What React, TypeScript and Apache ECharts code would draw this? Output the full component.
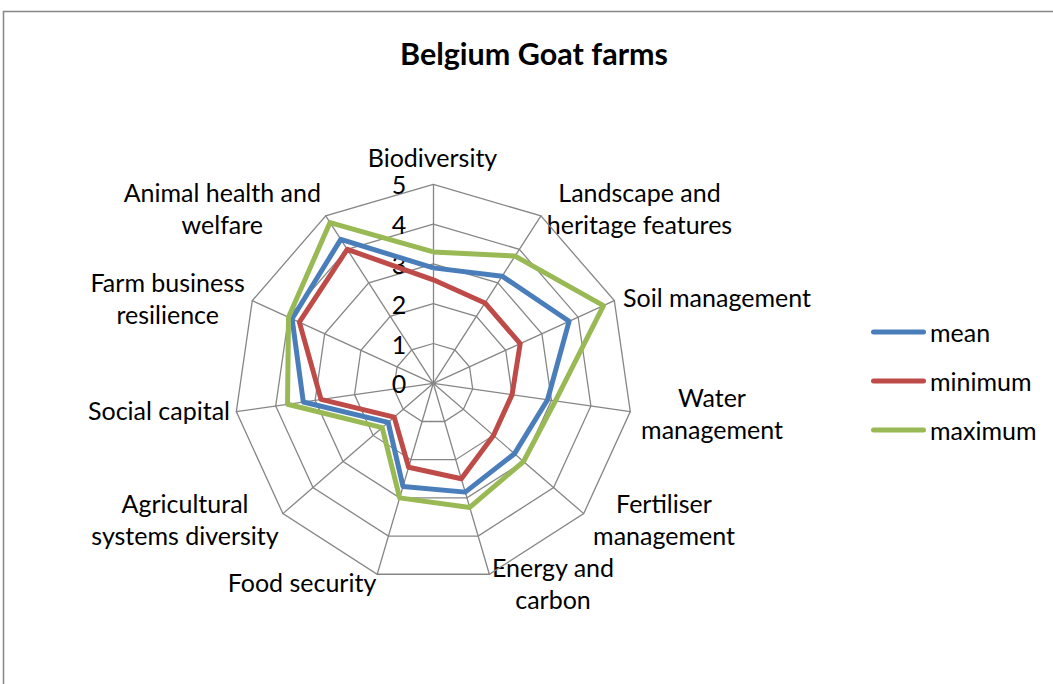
import React, { useEffect, useRef } from "react";
import * as echarts from "echarts";

// Clockwise order starting at the top, as in the reference
const CATEGORIES = [
  "Biodiversity",
  "Landscape and heritage features",
  "Soil management",
  "Water management",
  "Fertiliser management",
  "Energy and carbon",
  "Food security",
  "Agricultural systems diversity",
  "Social capital",
  "Farm business resilience",
  "Animal health and welfare",
];
const LABEL_TEXTS = [
  "Biodiversity",
  "Landscape and\nheritage features",
  "Soil management",
  "Water\nmanagement",
  "Fertiliser\nmanagement",
  "Energy and\ncarbon",
  "Food security",
  "Agricultural\nsystems diversity",
  "Social capital",
  "Farm business\nresilience",
  "Animal health and\nwelfare",
];
const MEAN = [2.9, 3.2, 3.75, 2.9, 2.7, 2.85, 2.7, 1.5, 3.3, 3.9, 4.3];
const MINIMUM = [2.6, 2.4, 2.4, 2.0, 2.0, 2.5, 2.2, 1.3, 2.85, 3.7, 4.0];
const MAXIMUM = [3.3, 3.8, 4.7, 3.1, 3.0, 3.25, 3.0, 1.7, 3.7, 4.0, 4.8];
const SERIES_NAMES = ["mean", "minimum", "maximum"];
const SERIES_COLORS = ["#4A7EBB", "#BE4B48", "#98B954"];
const AXIS_MAX = 5;
const TITLE = "Belgium Goat farms";

// layout: centres of the category label blocks
const LABEL_POS: [number, number][] = [
  [432.5, 157],
  [639.5, 208],
  [717, 296.5],
  [712, 413],
  [664, 518.5],
  [553, 582.5],
  [302, 582],
  [185, 519],
  [159, 410],
  [167.7, 297.7],
  [222.3, 207.7],
];

const FONT = "Lato";
const FS = 25;

// ECharts radar runs counter-clockwise; reorder to get clockwise
const ccw = <T,>(arr: T[]): T[] => [arr[0], ...arr.slice(1).reverse()];

export default function App() {
  const ref = useRef<HTMLDivElement>(null);
  useEffect(() => {
    if (!ref.current) return;
    const chart = echarts.init(ref.current, undefined, { renderer: "svg" });
    const cats = ccw(CATEGORIES);
    const indicator = cats.map((name, i) => {
      const ind: any = { name, max: AXIS_MAX, min: 0 };
      if (i === 0) {
        ind.axisLabel = {
          show: true,
          fontSize: FS,
          fontFamily: FONT,
          color: "#000",
          margin: 27,
        };
      }
      return ind;
    });
    const seriesVals = [MEAN, MINIMUM, MAXIMUM];
    const option: any = {
      animation: false,
      backgroundColor: "#fff",
      color: SERIES_COLORS,
      textStyle: { fontFamily: FONT },
      legend: {
        orient: "vertical",
        left: 866,
        top: 312,
        padding: 5,
        itemWidth: 55,
        itemHeight: 5,
        itemGap: 19,
        icon: "path://M2.5,0H52.5A2.5,2.5,0,0,1,52.5,5H2.5A2.5,2.5,0,0,1,2.5,0Z",
        textStyle: { fontSize: FS, fontFamily: FONT, color: "#000", lineHeight: 30, padding: [0, 0, 0, -1] },
        data: SERIES_NAMES,
      },
      radar: {
        center: [433.3, 383.3],
        radius: 199,
        startAngle: 90,
        shape: "polygon",
        splitNumber: 5,
        indicator,
        axisName: { show: false },
        axisLabel: { show: false },
        axisTick: { show: false },
        axisLine: { lineStyle: { color: "#868686", width: 1.3 } },
        splitLine: { lineStyle: { color: "#868686", width: 1.3 } },
        splitArea: { show: false },
      },
      series: [
        {
          type: "radar",
          symbol: "none",
          data: seriesVals.map((vals, k) => ({
            name: SERIES_NAMES[k],
            value: ccw(vals),
            lineStyle: { color: SERIES_COLORS[k], width: 5 },
            itemStyle: { color: SERIES_COLORS[k] },
          })),
        },
      ],
      graphic: [
        {
          type: "rect",
          shape: { x: 3.5, y: 11.5, width: 1100, height: 800 },
          style: { fill: "none", stroke: "#868686", lineWidth: 1.5 },
          silent: true,
        },
        {
          type: "text",
          x: 534,
          y: 53,
          style: {
            text: TITLE,
            fontFamily: FONT,
            fontSize: 30.5,
            fontWeight: "bold",
            fill: "#000",
            align: "center",
            verticalAlign: "middle",
          },
        },
        ...LABEL_TEXTS.map((t, i) => ({
          type: "text",
          x: LABEL_POS[i][0],
          y: LABEL_POS[i][1],
          style: {
            text: t,
            fontFamily: FONT,
            fontSize: FS,
            lineHeight: 32,
            fill: "#000",
            align: "center",
            verticalAlign: "middle",
          },
        })),
      ],
    };
    chart.setOption(option);
    return () => chart.dispose();
  }, []);
  return (
    <div
      ref={ref}
      style={{ position: "fixed", left: 0, top: 0, width: 1053, height: 684, background: "#fff" }}
    />
  );
}
